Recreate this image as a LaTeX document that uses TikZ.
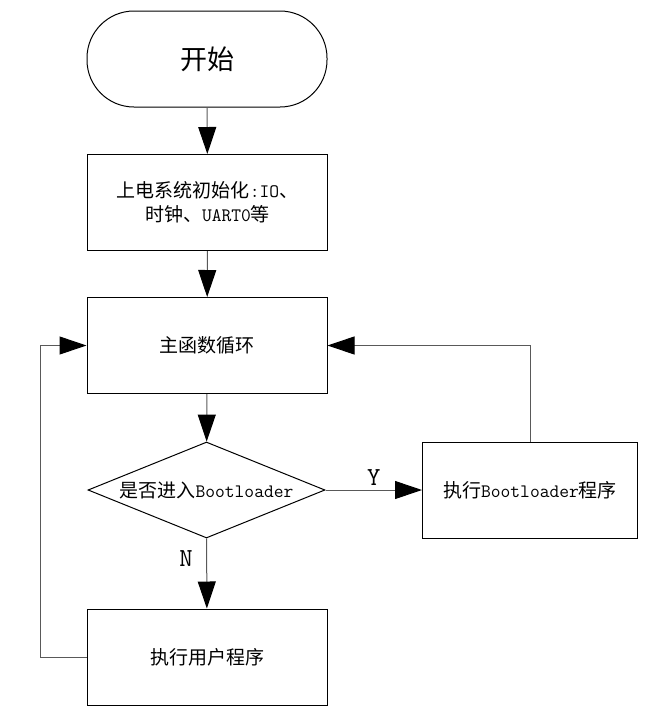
\documentclass[tikz,border=0pt]{standalone}
\usepackage{fontspec}
\usetikzlibrary{arrows.meta,shapes.geometric}
\newfontfamily\cjk{Noto Sans CJK SC}
\begin{document}
\begin{tikzpicture}[x=1pt,y=-1pt,
  box/.style={draw=black,line width=1pt,minimum width=240pt,minimum height=96pt,inner sep=0pt,align=center,font=\fontsize{19}{24}\selectfont},
  conn/.style={draw=black!65,line width=1pt,-{Triangle[length=27pt,width=18pt,fill=black,color=black]}},
  lab/.style={font=\fontsize{26}{28}\selectfont\ttfamily}]
\useasboundingbox (0,0) rectangle (656,716);
\node[box,rounded corners=47pt,font=\fontsize{27}{30}\selectfont] (start) at (207,59) {\cjk 开始};
\node[box] (init) at (207.5,202.5) {\cjk 上电系统初始化{\ttfamily:IO}、\\\cjk 时钟、{\ttfamily UART0}等};
\node[box] (loop) at (207,345.5) {\cjk 主函数循环};
\node[draw=black,line width=1pt,diamond,aspect=2.47,minimum width=237pt,minimum height=96pt,inner sep=0pt,font=\fontsize{19}{24}\selectfont] (dec) at (206.5,490) {\cjk 是否进入{\ttfamily Bootloader}};
\node[box,minimum width=215pt] (bl) at (530,490) {\cjk 执行{\ttfamily Bootloader}程序};
\node[box] (user) at (207,657) {\cjk 执行用户程序};
\coordinate (lp) at (40,657);
\draw[conn] (start) -- (init);
\draw[conn] (init) -- (loop);
\draw[conn] (loop) -- (dec);
\draw[conn] (dec) -- node[lab,above=1pt,pos=0.5]{Y} (bl);
\draw[conn] (dec) -- node[lab,left=10pt,pos=0.28]{N} (user);
\draw[conn] (bl.north) |- (loop.east);
\draw[conn] (user.west) -- (lp) |- (loop.west);
\end{tikzpicture}
\end{document}
